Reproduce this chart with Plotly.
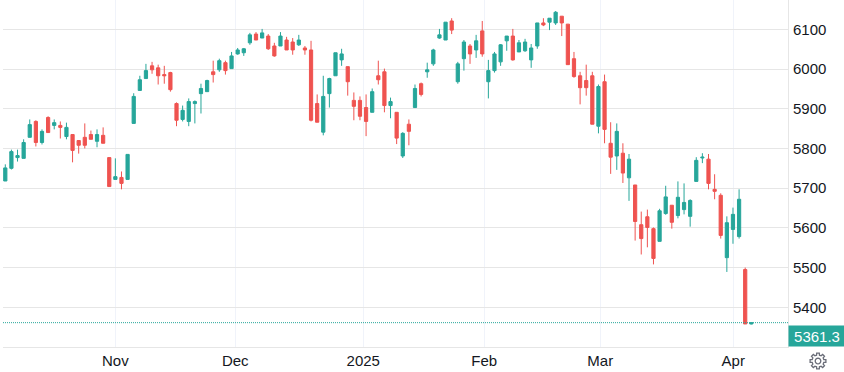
import math
import plotly.graph_objects as go

open_ = [5718,5750,5777,5775,5828,5868,5815,5878,5858,5858,5830,5835,5820,5828,5835,5818,5833,5777,5722,5727,5722,
5863,5946,5976,6008,6003,5986,5991,5913,5873,5868,5913,5938,5943,5993,5998,6016,6001,6038,6041,6066,6088,6078,6083,6058,6058,6073,6068,6061,6053,
6048,5913,5841,5938,5983,6023,6006,5921,5921,5903,5891,5983,5993,5908,5891,5781,5861,5903,5963,5993,6013,
6078,6073,6121,5968,6026,6058,6048,6096,5968,5996,6018,6071,6083,6043,6046,6023,6058,6116,6118,6116,6133,6113,6026,5983,5971,
5983,5856,5968,5813,5781,5788,5726,5708,5608,5628,5598,5566,
5636,5657,5631,5646,5629,5717,5776,5773,5697,5682,5525,5596,5578,5495,5358]
high = [5760,5797,5797,5823,5873,5871,5848,5881,5873,5868,5865,5835,5820,5863,5845,5848,5853,5777,5775,5742,5785,
5939,5983,6013,6018,6011,6008,5993,5916,5908,5926,5921,5963,5973,6021,6026,6021,6043,6053,6053,6091,6093,6101,6088,6066,6093,6081,6078,6086,6058,
6071,5936,5983,5978,6041,6051,6006,5941,5931,5936,5951,6021,6001,5928,5891,5841,5873,5961,5966,6016,6051,
6101,6118,6128,6018,6073,6063,6086,6121,6023,6043,6063,6083,6101,6073,6076,6063,6116,6128,6128,6146,6133,6113,6043,5993,6011,
5993,5961,5986,5866,5863,5813,5786,5708,5641,5646,5601,5648,
5706,5657,5717,5712,5672,5778,5788,5786,5735,5687,5629,5651,5697,5500,5361.3]
low = [5718,5747,5767,5775,5828,5805,5810,5840,5848,5825,5823,5765,5787,5800,5823,5803,5813,5704,5722,5697,5722,
5863,5946,5976,5988,5961,5963,5943,5856,5868,5856,5863,5888,5943,5966,5993,5986,6001,6036,6033,6061,6073,6078,6048,6031,6058,6048,6036,6058,6036,
5868,5866,5833,5903,5983,6008,5933,5871,5871,5831,5891,5961,5891,5876,5811,5776,5808,5903,5931,5978,6008,
6076,6073,6088,5963,5996,6013,6028,6031,5926,5991,6008,6046,6021,6043,6043,6003,6051,6108,6098,6111,6083,6011,5978,5911,5933,
5861,5838,5813,5736,5746,5713,5668,5568,5533,5551,5508,5566,
5633,5598,5624,5634,5603,5717,5763,5697,5672,5573,5489,5560,5573,5358,5357]
close = [5751,5792,5782,5815,5860,5815,5843,5840,5865,5853,5853,5795,5808,5808,5823,5835,5813,5704,5729,5712,5785,
5931,5973,5996,5998,5983,5983,5948,5871,5896,5918,5918,5951,5971,5986,6021,5996,6033,6048,6051,6086,6073,6091,6051,6033,6083,6048,6048,6073,6048,
5871,5866,5931,5976,6041,6038,5968,5906,5881,5868,5943,5973,5908,5918,5826,5838,5843,5951,5936,5998,6048,
6086,6118,6098,6013,6068,6038,6071,6038,5996,6038,6061,6083,6023,6066,6068,6053,6116,6111,6128,6143,6116,6011,5981,5953,5953,
5861,5956,5848,5778,5843,5738,5773,5616,5573,5601,5523,5643,
5678,5614,5677,5664,5669,5770,5778,5712,5692,5581,5613,5634,5672,5358,5361.3]
sessions = list(range(len(close)))
month_positions = [18, 37.6, 58.54, 78.33, 97.3, 119.05]
month_labels = ["Nov", "Dec", "2025", "Feb", "Mar", "Apr"]
price_ticks = [5400, 5500, 5600, 5700, 5800, 5900, 6000, 6100]
last_price = 5361.3

UP, DOWN = "#26a69a", "#ef5350"
TEXT = "#131722"
FONT = "Liberation Sans, Arial, sans-serif"

fig = go.Figure(go.Candlestick(
    x=sessions, open=open_, high=high, low=low, close=close,
    whiskerwidth=0,
    increasing=dict(line=dict(color=UP, width=1), fillcolor=UP),
    decreasing=dict(line=dict(color=DOWN, width=1), fillcolor=DOWN),
    hoverinfo="skip",
))

# settings-gear icon, drawn in pixels around its centre (offset from the plot's bottom-right corner)
def gear(cx=30.0, cy=-14.0, r_out=8.0, r_in=6.0, r_hole=2.8, teeth=8):
    pts = []
    for k in range(teeth):
        a = 2 * math.pi * k / teeth
        w = math.pi / teeth
        for da, r in ((-0.62 * w, r_in), (-0.42 * w, r_out), (0.42 * w, r_out), (0.62 * w, r_in)):
            pts.append((cx + r * math.cos(a + da), cy + r * math.sin(a + da)))
    outer = "M " + " L ".join(f"{x:.2f} {y:.2f}" for x, y in pts) + " Z"
    hole = [(cx + r_hole * math.cos(2 * math.pi * k / 16), cy + r_hole * math.sin(2 * math.pi * k / 16)) for k in range(16)]
    inner = " M " + " L ".join(f"{x:.2f} {y:.2f}" for x, y in hole) + " Z"
    return outer + inner

fig.update_layout(
    width=844, height=372,
    margin=dict(l=3, r=56, t=0, b=25, pad=0, autoexpand=False),
    paper_bgcolor="white", plot_bgcolor="white",
    showlegend=False, boxgap=0.25,
    font=dict(family=FONT, size=15, color=TEXT),
    xaxis=dict(
        range=[-0.376, 128.0], rangeslider=dict(visible=False), automargin=False,
        tickmode="array", tickvals=month_positions, ticktext=month_labels,
        showgrid=True, gridcolor="#f0f3fa", gridwidth=1, zeroline=False,
        showline=True, linecolor="#e6e6e6", linewidth=1, ticks="", ticklabelstandoff=0,
    ),
    yaxis=dict(
        side="right", range=[5300, 6173.8], automargin=False,
        tickmode="array", tickvals=price_ticks,
        showgrid=True, gridcolor="#e6e6e6", gridwidth=1, zeroline=False,
        showline=True, linecolor="#e6e6e6", linewidth=1, ticks="", ticklabelstandoff=1,
    ),
    shapes=[
        dict(type="line", xref="paper", x0=0, x1=1, yref="y", y0=last_price, y1=last_price,
             line=dict(color=UP, width=1, dash="1px,1px")),
        dict(type="path", xref="paper", xsizemode="pixel", xanchor=1,
             yref="paper", ysizemode="pixel", yanchor=0,
             path=gear(), line=dict(color="#6a6d78", width=1.3),
             x0=0, x1=0, y0=0, y1=0),
    ],
    annotations=[
        dict(xref="paper", yref="paper", x=1, y=0, xanchor="left", yanchor="bottom",
             text=f"{last_price}", showarrow=False, width=56, height=20, bgcolor=UP,
             font=dict(color="white", size=15, family=FONT), borderpad=0, align="center"),
    ],
)
fig.write_html("out.html", config=dict(displayModeBar=False),
               post_script="document.body.style.margin='0';document.body.style.overflow='hidden';")
